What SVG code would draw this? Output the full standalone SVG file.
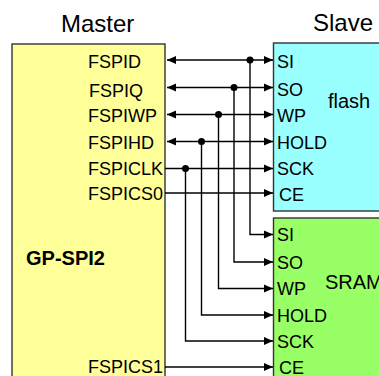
<svg xmlns="http://www.w3.org/2000/svg" width="379" height="376" viewBox="0 0 379 376">
<style>
text{font-family:"Liberation Sans",Arial,sans-serif;font-size:18px;fill:#000}
.h{font-size:24px}
.b{font-weight:bold;font-size:20px}
.l{font-size:20px}
.box{stroke:#333;stroke-width:1.4}
.c{fill:none;stroke:#000;stroke-width:1.4}
.d{fill:#000}
</style>
<defs>
<marker id="a" markerUnits="userSpaceOnUse" markerWidth="10" markerHeight="10" refX="9" refY="5" orient="auto-start-reverse"><path d="M0,1 L9,5 L0,9 Z" fill="#000"/></marker>
</defs>
<text class="h" x="61" y="32">Master</text>
<text class="h" x="313" y="31">Slave</text>
<g id="master">
<rect class="box" x="12" y="44" width="153" height="334" fill="#ffff99"/>
<text x="88" y="68">FSPID</text>
<text x="89" y="97">FSPIQ</text>
<text x="88" y="122">FSPIWP</text>
<text x="88" y="149">FSPIHD</text>
<text x="88" y="175">FSPICLK</text>
<text x="88" y="200">FSPICS0</text>
<text class="b" x="26" y="265">GP-SPI2</text>
<text x="88" y="373">FSPICS1</text>
</g>
<g id="flash">
<rect class="box" x="273.500" y="43" width="110" height="168" fill="#99ffff"/>
<text x="277" y="68">SI</text>
<text x="277" y="96">SO</text>
<text x="277" y="122">WP</text>
<text x="277" y="149">HOLD</text>
<text x="277" y="175">SCK</text>
<text x="279" y="201">CE</text>
<text class="l" x="328" y="108">flash</text>
</g>
<g id="sram">
<rect class="box" x="273.500" y="218" width="110" height="165" fill="#99ff66"/>
<text x="277" y="241">SI</text>
<text x="277" y="269">SO</text>
<text x="277" y="295">WP</text>
<text x="277" y="322">HOLD</text>
<text x="277" y="348">SCK</text>
<text x="279" y="374">CE</text>
<text class="l" x="325" y="289">SRAM</text>
</g>
<g id="connectors">
<path class="c" d="M167,60H273" marker-start="url(#a)" marker-end="url(#a)"/>
<path class="c" d="M167,87.500H273" marker-start="url(#a)" marker-end="url(#a)"/>
<path class="c" d="M167,114.500H273" marker-start="url(#a)" marker-end="url(#a)"/>
<path class="c" d="M167,141.500H273" marker-start="url(#a)" marker-end="url(#a)"/>
<path class="c" d="M165,168.500H273" marker-end="url(#a)"/>
<path class="c" d="M165,193H273" marker-end="url(#a)"/>
<path class="c" d="M165,367H273" marker-end="url(#a)"/>
<path class="c" d="M250,60V234.500H273" marker-end="url(#a)"/>
<path class="c" d="M234,87.500V262H273" marker-end="url(#a)"/>
<path class="c" d="M218.500,114.500V288.500H273" marker-end="url(#a)"/>
<path class="c" d="M201.500,141.500V315H273" marker-end="url(#a)"/>
<path class="c" d="M185.500,168.500V341H273" marker-end="url(#a)"/>
<circle class="d" cx="250" cy="60" r="3.500"/>
<circle class="d" cx="234" cy="87.500" r="3.500"/>
<circle class="d" cx="218.500" cy="114.500" r="3.500"/>
<circle class="d" cx="201.500" cy="141.500" r="3.500"/>
<circle class="d" cx="185.500" cy="168.500" r="3.500"/>
</g>
</svg>
